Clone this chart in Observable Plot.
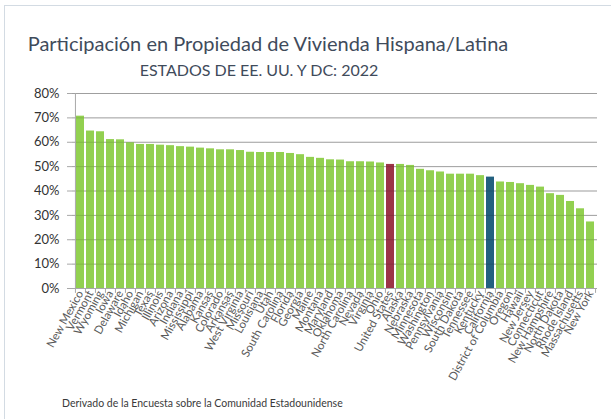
<!DOCTYPE html>
<html><head><meta charset="utf-8">
<script src="https://cdn.jsdelivr.net/npm/d3@7"></script>
<script src="https://cdn.jsdelivr.net/npm/@observablehq/plot@0.6"></script>
<style>
body{margin:0;background:#fff;}
#wrap{position:relative;width:611px;height:419px;overflow:hidden;font-family:Lato,"Open Sans",sans-serif;background:#fff;}
#border{position:absolute;left:4px;top:5px;width:800px;height:600px;border:1px solid #d3dbe3;box-sizing:border-box;}
#title{position:absolute;left:0;width:536px;top:31px;text-align:center;font-size:20px;color:#3f4b5b;white-space:nowrap;}
#subtitle{position:absolute;left:0;width:518px;top:60px;text-align:center;font-size:16px;color:#3f4b5b;white-space:nowrap;}
#chart{position:absolute;left:0;top:80px;}
#caption{position:absolute;left:62px;top:397px;font-size:10.5px;color:#3a3a3a;white-space:nowrap;}
</style></head>
<body>
<div id="wrap">
<div id="border"></div>
<div id="title">Participación en Propiedad de Vivienda Hispana/Latina</div>
<div id="subtitle">ESTADOS DE EE. UU. Y DC: 2022</div>
<div id="chart"></div>
<div id="caption">Derivado de la Encuesta sobre la Comunidad Estadounidense</div>
</div>
<script>
const states = ["New Mexico","Vermont","Wyoming","Iowa","Delaware","Idaho","Michigan","Texas","Illinois","Arizona","Indiana","Mississippi","Alabama","Kansas","Colorado","Arkansas","West Virginia","Missouri","Louisiana","Utah","South Carolina","Florida","Georgia","Maine","Montana","Maryland","Oklahoma","North Carolina","Nevada","Virginia","Ohio","United States","Alaska","Nebraska","Minnesota","Washington","Pennsylvania","Wisconsin","South Dakota","Tennessee","Kentucky","California","District of Columbia","Oregon","Hawaii","New Jersey","Connecticut","New Hampshire","North Dakota","Rhode Island","Massachusetts","New York"];
const shares = [70.7,64.6,64.3,61.1,61.0,59.8,59.1,59.1,58.8,58.6,58.2,58.0,57.6,57.3,56.9,56.9,56.6,55.9,55.8,55.8,55.8,55.4,54.9,53.8,53.4,52.8,52.7,52.0,52.0,51.9,51.5,50.9,50.9,50.5,48.9,48.3,47.8,46.9,46.9,46.9,46.3,45.7,43.7,43.5,43.0,42.3,41.6,38.9,38.2,35.7,32.7,27.3];
const yTicks = [0,10,20,30,40,50,60,70,80];
const nationalBar = "United States";
const highlightedBar = "California";

const data = states.map((s, i) => ({state: s, share: shares[i]}));
const fillFor = d => d.state === nationalBar ? "#9c3447" : d.state === highlightedBar ? "#23607f" : "#92d050";

const chart = Plot.plot({
  width: 611, height: 339,
  marginTop: 13, marginBottom: 131, marginLeft: 72, marginRight: 14,
  style: {fontFamily: "Lato, 'Open Sans', sans-serif", background: "transparent"},
  x: {domain: states, paddingInner: 0.2, paddingOuter: 0.1, label: null},
  y: {domain: [0, 80], label: null},
  marks: [
    Plot.gridY(yTicks.filter(t => t > 0), {stroke: "#b5b5b5", strokeOpacity: 1}),
    Plot.barY(data, {x: "state", y: "share", fill: fillFor}),
    Plot.gridY(yTicks.filter(t => t > 0), {stroke: "#000", strokeOpacity: 0.12}),
    Plot.ruleY([0], {stroke: "#a8a8a8"}),
    Plot.ruleX(states, {x: d => d, y1: 0, y2: -2, dx: -5.05, stroke: "#a8a8a8"}),
    Plot.ruleX([states[states.length - 1]], {x: d => d, y1: 0, y2: -2, dx: 5.05, stroke: "#a8a8a8"}),
    Plot.ruleX([states[0]], {x: d => d, y1: 0, y2: 80, dx: -5.05, stroke: "#a8a8a8"}),
    Plot.axisY(yTicks, {tickSize: 5, tickPadding: 8, tickFormat: d => d + "%", fontSize: 13, color: "#333", stroke: "#a8a8a8", label: null}),
    Plot.axisX({tickSize: 0, tickPadding: 3, tickRotate: -61, fontSize: 11.5, fill: "#5a5a5a", label: null})
  ]
});
document.getElementById("chart").appendChild(chart);
</script>
</body></html>
